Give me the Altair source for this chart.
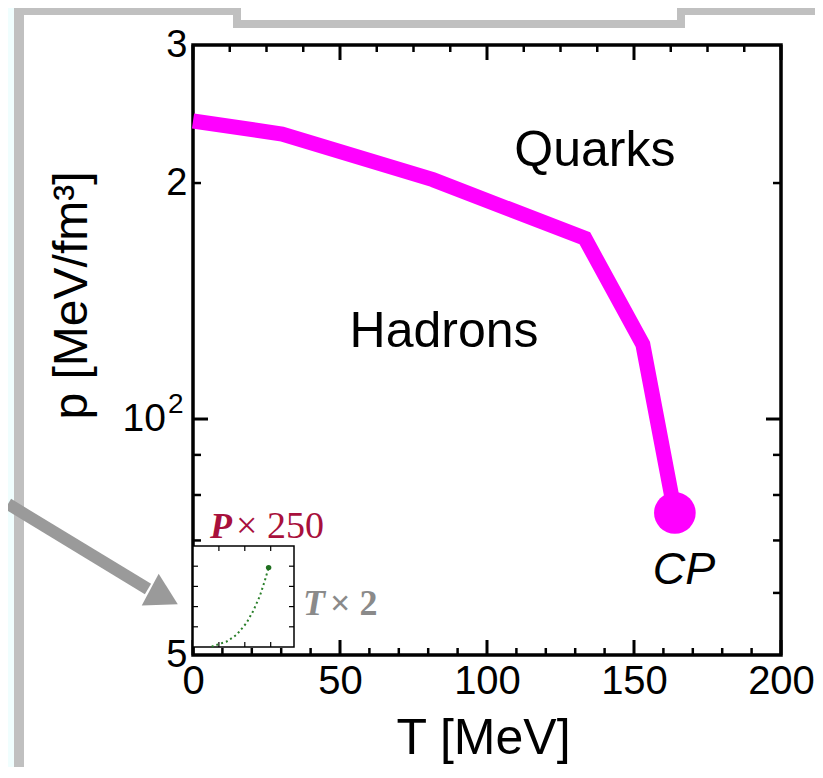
import altair as alt
import pandas as pd

# ---- data ----
T_line = [0, 30.3, 81.6, 133.3, 153.0, 163.9]
p_line = [240, 231, 202, 170, 124.5, 75.9]
cp_T = [163.9]
cp_p = [75.9]

x_major = [0, 50, 100, 150, 200]
x_minor_bottom = [10, 20, 30, 40, 60, 70, 80, 90, 110, 120, 130, 140, 160, 170, 180, 190]
x_minor_top = [12.5, 25, 37.5, 62.5, 75, 87.5, 112.5, 125, 137.5, 162.5, 175, 187.5]
y_tick_vals = [50, 100, 200, 300]
y_tick_labels = ["5", "", "2", "3"]          # the 10^2 label is drawn as text below
pow_val = [100]
pow_base = ["10"]
pow_exp = ["2"]
y_major = [100]
y_minor = [60, 70, 80, 90, 200]

inset_x = [0.72, 1.30, 1.68, 2.06, 2.32, 2.58, 2.77, 2.92]
inset_y = [0.02, 0.27, 0.60, 1.18, 1.77, 2.52, 3.27, 3.93]
inset_dot_x = [2.92]
inset_dot_y = [3.93]
inset_xticks = [1, 2, 3]
inset_yticks = [1, 2, 3, 4]

region_labels = ["Quarks", "Hadrons"]
region_T = [136.7, 85.4]
region_p = [219.6, 129.0]
cp_label_T = [167.0]
cp_label_p = [64.2]

# ---- layout constants ----
W, H = 588, 610
FONT = "Liberation Sans"
SERIF = "Liberation Serif"

xs = alt.Scale(domain=[0, 200], nice=False, zero=False)
ys = alt.Scale(type="log", domain=[50, 300], nice=False)
ixs = alt.Scale(domain=[0, 3.9], range=[0, 101], nice=False, zero=False)
iys = alt.Scale(domain=[0, 5], range=[602, 501], nice=False, zero=False)

one = pd.DataFrame({"a": [0]})

label_expr = " : ".join(
    f"datum.value == {v} ? '{l}'" for v, l in zip(y_tick_vals[:-1], y_tick_labels[:-1])
) + f" : '{y_tick_labels[-1]}'"

x_axis = alt.Axis(values=x_major, format="d", ticks=False, domain=False, grid=False,
                  labelFont=FONT, labelFontSize=40, labelPadding=6, labelColor="black",
                  labelFlush=False,
                  title="T [MeV]", titleFont=FONT, titleFontSize=50, titleFontWeight="normal",
                  titleColor="black", titleBaseline="alphabetic", titleY=98, titleX=290)
y_axis = alt.Axis(values=y_tick_vals, labelExpr=label_expr, ticks=False, domain=False, grid=False,
                  labelFont=FONT, labelFontSize=38, labelPadding=6, labelColor="black",
                  labelFlush=False,
                  title="p [MeV/fm³]", titleFont=FONT, titleFontSize=48, titleFontWeight="normal",
                  titleColor="black", titleAngle=270, titleX=-121, titleY=250,
                  titleAlign="center", titleBaseline="middle")


def rect(x0, x1, y0, y1, color, stroke=None, sw=0):
    kw = dict(color=color)
    if stroke:
        kw.update(stroke=stroke, strokeWidth=sw)
    return alt.Chart(one).mark_rect(**kw).encode(
        x=alt.value(x0), x2=alt.value(x1), y=alt.value(y0), y2=alt.value(y1))


# ---- slide decorations ----
cyan = rect(-185, -179, -37, 722, "#f0fefe")
frame_v = rect(-179, -169, -37, 722, "#c0c0c0")
frame_h = rect(-179, 622, -37, -30, "#c0c0c0")
box_outer = rect(40, 492, -37, -17, "#c0c0c0")
box_inner = rect(48, 484, -37, -25, "white")

arrow_shaft = alt.Chart(one).mark_rule(color="#9a9a9a", strokeWidth=12).encode(
    x=alt.value(-185), y=alt.value(459), x2=alt.value(-45), y2=alt.value(544))
arrow_head = alt.Chart(one).mark_point(shape="triangle-up", filled=True, size=1300,
                                       angle=118, color="#9a9a9a", opacity=1).encode(
    x=alt.value(-29), y=alt.value(552))

# ---- main ticks (inward) ----
def xticks(vals, y0, y1, sw):
    return alt.Chart(pd.DataFrame({"T": vals})).mark_rule(color="black", strokeWidth=sw).encode(
        x=alt.X("T:Q", scale=xs, axis=None), y=alt.value(y0), y2=alt.value(y1))


def yticks(vals, x0, x1, sw):
    return alt.Chart(pd.DataFrame({"p": vals})).mark_rule(color="black", strokeWidth=sw).encode(
        y=alt.Y("p:Q", scale=ys, axis=None), x=alt.value(x0), x2=alt.value(x1))


ticks = [
    xticks(x_major, H, H - 15, 3), xticks(x_minor_bottom, H, H - 7, 2.5),
    xticks(x_major, 0, 15, 3), xticks(x_minor_top, 0, 7, 2.5),
    yticks(y_major, 0, 15, 3), yticks(y_minor, 0, 8, 2.5),
    yticks(y_major, W, W - 15, 3), yticks(y_minor, W, W - 8, 2.5),
]

# the 10^2 tick label: base and superscript
pow_df = pd.DataFrame({"p": pow_val, "b": pow_base, "e": pow_exp})
pow_base_txt = alt.Chart(pow_df).mark_text(
    font=FONT, fontSize=39, color="black", align="right", baseline="middle",
).encode(y=alt.Y("p:Q", scale=ys, axis=None), x=alt.value(-27), text="b:N")
pow_exp_txt = alt.Chart(pow_df).mark_text(
    font=FONT, fontSize=28, color="black", align="left", baseline="alphabetic", dy=-6,
).encode(y=alt.Y("p:Q", scale=ys, axis=None), x=alt.value(-25), text="e:N")

# ---- main data ----
df_line = pd.DataFrame({"T": T_line, "p": p_line})
line = alt.Chart(df_line).mark_line(color="#ff00ff", strokeWidth=15, strokeCap="butt").encode(
    x=alt.X("T:Q", scale=xs, axis=x_axis), y=alt.Y("p:Q", scale=ys, axis=y_axis))
cp = alt.Chart(pd.DataFrame({"T": cp_T, "p": cp_p})).mark_circle(
    color="#ff00ff", size=1735, opacity=1).encode(
    x=alt.X("T:Q", scale=xs, axis=None), y=alt.Y("p:Q", scale=ys, axis=None))

regions = alt.Chart(pd.DataFrame({"T": region_T, "p": region_p, "t": region_labels})).mark_text(
    font=FONT, fontSize=50, color="black", align="center", baseline="middle").encode(
    x=alt.X("T:Q", scale=xs, axis=None), y=alt.Y("p:Q", scale=ys, axis=None), text="t:N")
cp_text = alt.Chart(pd.DataFrame({"T": cp_label_T, "p": cp_label_p, "t": ["CP"]})).mark_text(
    font=FONT, fontSize=45, fontStyle="italic", color="black", align="center",
    baseline="middle").encode(
    x=alt.X("T:Q", scale=xs, axis=None), y=alt.Y("p:Q", scale=ys, axis=None), text="t:N")

# ---- inset ----
inset_box = rect(0, 101, 501, 602, "white", stroke="black", sw=1.5)


def ixt(vals, y0, y1):
    return alt.Chart(pd.DataFrame({"ix": vals})).mark_rule(color="black", strokeWidth=1.2).encode(
        x=alt.X("ix:Q", scale=ixs, axis=None), y=alt.value(y0), y2=alt.value(y1))


def iyt(vals, x0, x1):
    return alt.Chart(pd.DataFrame({"iy": vals})).mark_rule(color="black", strokeWidth=1.2).encode(
        y=alt.Y("iy:Q", scale=iys, axis=None), x=alt.value(x0), x2=alt.value(x1))


inset_ticks = [ixt(inset_xticks, 501, 506), ixt(inset_xticks, 602, 597),
               iyt(inset_yticks, 0, 5), iyt(inset_yticks, 101, 96)]
inset_curve = alt.Chart(pd.DataFrame({"ix": inset_x, "iy": inset_y})).mark_line(
    color="#2a7f2a", strokeWidth=2, strokeDash=[2, 3]).encode(
    x=alt.X("ix:Q", scale=ixs, axis=None), y=alt.Y("iy:Q", scale=iys, axis=None))
inset_dot = alt.Chart(pd.DataFrame({"ix": inset_dot_x, "iy": inset_dot_y})).mark_circle(
    color="#1f6f1f", size=30, opacity=1).encode(
    x=alt.X("ix:Q", scale=ixs, axis=None), y=alt.Y("iy:Q", scale=iys, axis=None))


def txt(s, x, y, color, size, style="normal", weight="normal", font=SERIF):
    return alt.Chart(one).mark_text(text=s, font=font, fontSize=size, fontStyle=style,
                                    fontWeight=weight, color=color, align="left",
                                    baseline="alphabetic").encode(
        x=alt.value(x), y=alt.value(y))


p_lab = txt("P", 17, 493, "#a8103c", 36, "italic", "bold")
p_lab2 = txt("× 250", 43, 493, "#a8103c", 38)
t_lab = txt("T", 110, 570, "#8a8a8a", 36, "italic", "bold")
t_lab2 = txt("× 2", 137, 570, "#8a8a8a", 36, "normal", "bold")

chart = alt.layer(
    cyan, frame_v, frame_h, box_outer, box_inner, arrow_shaft, arrow_head,
    *ticks, pow_base_txt, pow_exp_txt, line, cp, regions, cp_text,
    inset_box, *inset_ticks, inset_curve, inset_dot,
    p_lab, p_lab2, t_lab, t_lab2,
).resolve_scale(x="independent", y="independent").properties(
    width=W, height=H,
    padding={"left": 185, "top": 37, "right": 34, "bottom": 112},
    autosize=alt.AutoSizeParams(type="none"),
    background="white",
).configure_view(stroke="black", strokeWidth=3.5)

chart.save("out.html", embed_options={"renderer": "svg", "actions": False})
